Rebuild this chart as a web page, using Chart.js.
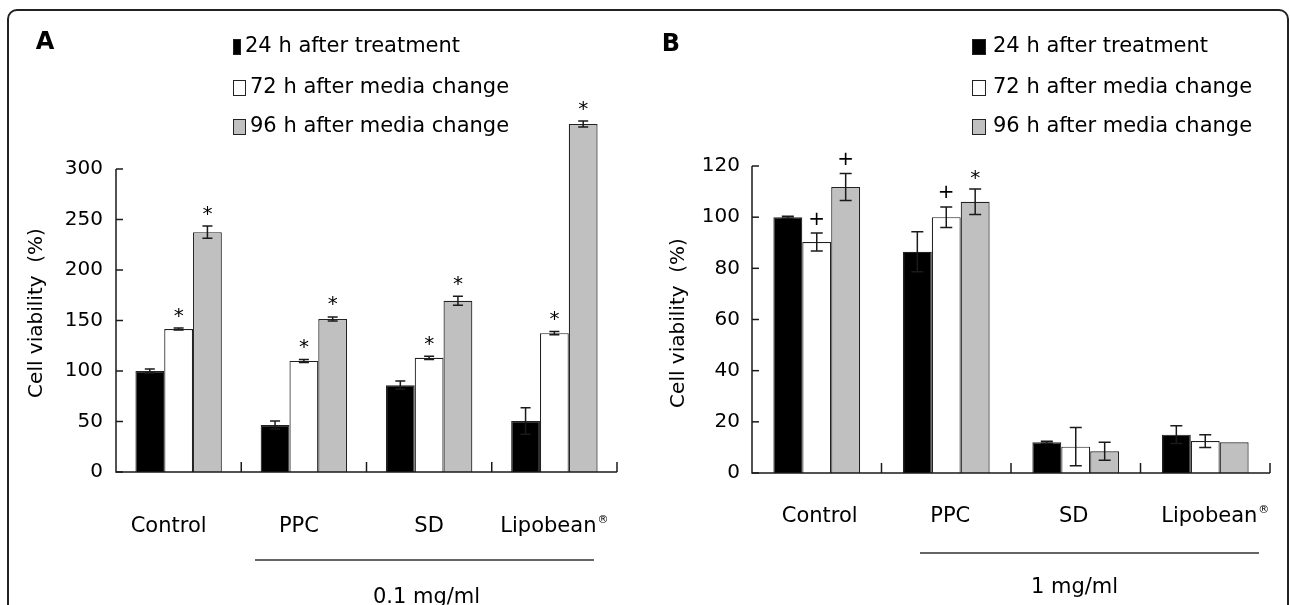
<!DOCTYPE html>
<html>
<head>
<meta charset="utf-8">
<script src="https://cdn.jsdelivr.net/npm/chart.js@4.4.1/dist/chart.umd.min.js"></script>
<style>
  html, body { margin: 0; padding: 0; background: #fff; overflow: hidden; }
  #wrap { position: relative; width: 1290px; height: 605px; overflow: hidden; }
  #frame { position: absolute; left: 7px; top: 9px; width: 1282px; height: 700px; box-sizing: border-box; border: 2px solid #222; border-radius: 10px; }
  canvas { position: absolute; top: 0; }
  #chartA { left: 0; }
  #chartB { left: 645px; }
</style>
</head>
<body>
<div id="wrap">
  <div id="frame"></div>
  <canvas id="chartA" width="645" height="605"></canvas>
  <canvas id="chartB" width="645" height="605"></canvas>
</div>
<script>
const categories = ['Control', 'PPC', 'SD', 'Lipobean®'];
const seriesNames = ['24 h after treatment', '72 h after media change', '96 h after media change'];

// Panel A, 0.1 mg/ml
const a24 = [100, 46.5, 86, 50.5];
const a24Err = [2, 4, 4, 13];
const a72 = [141.5, 110, 113, 137.5];
const a72Err = [1, 1.5, 1.5, 1.5];
const a96 = [237.5, 151.5, 169.5, 344.5];
const a96Err = [6, 2, 4.5, 3];
const a24Marks = ['', '', '', ''];
const a72Marks = ['*', '*', '*', '*'];
const a96Marks = ['*', '*', '*', '*'];
const aTicks = [0, 50, 100, 150, 200, 250, 300];

// Panel B, 1 mg/ml
const b24 = [100, 86.5, 12, 15];
const b24Err = [0.4, 7.8, 0.4, 3.5];
const b72 = [90.3, 100, 10.3, 12.5];
const b72Err = [3.5, 4, 7.5, 2.5];
const b96 = [111.8, 106, 8.5, 12];
const b96Err = [5.3, 5, 3.5, 0];
const b24Marks = ['', '', '', ''];
const b72Marks = ['+', '+', '', ''];
const b96Marks = ['+', '*', '', ''];
const bTicks = [0, 20, 40, 60, 80, 100, 120];

const FONT = 'DejaVu Sans';
const fillColors = ['#000000', '#ffffff', '#c0c0c0'];

function drawGlyph(ctx, text, x, yc) {
  const m = ctx.measureText(text);
  const asc = m.actualBoundingBoxAscent, desc = m.actualBoundingBoxDescent;
  ctx.fillText(text, x, yc + (asc - desc) / 2);
}

const extrasPlugin = {
  id: 'panelExtras',
  afterDraw(chart, args, opts) {
    const ctx = chart.ctx;
    const xs = chart.scales.x;
    const ys = chart.scales.y;
    const area = chart.chartArea;
    const y0 = ys.getPixelForValue(0);
    ctx.save();
    ctx.strokeStyle = '#1a1a1a';
    ctx.fillStyle = '#000';

    // error bars and significance marks
    chart.data.datasets.forEach((ds, di) => {
      const meta = chart.getDatasetMeta(di);
      meta.data.forEach((bar, i) => {
        const v = ds.data[i];
        const e = ds.errors[i];
        const top = ys.getPixelForValue(v + e);
        const bot = ys.getPixelForValue(v - e);
        if (e > 0) {
          ctx.lineWidth = 1.5;
          ctx.beginPath();
          ctx.moveTo(bar.x, top);
          ctx.lineTo(bar.x, bot);
          ctx.moveTo(bar.x - opts.cap / 2, top);
          ctx.lineTo(bar.x + opts.cap / 2, top);
          ctx.moveTo(bar.x - opts.cap / 2, bot);
          ctx.lineTo(bar.x + opts.cap / 2, bot);
          ctx.stroke();
        }
        const mark = ds.marks[i];
        if (mark) {
          ctx.font = '20px ' + FONT;
          ctx.textAlign = 'center';
          drawGlyph(ctx, mark, bar.x, top - opts.markGap);
        }
      });
    });

    // axis lines
    ctx.lineWidth = 1.5;
    ctx.beginPath();
    ctx.moveTo(area.left, ys.getPixelForValue(opts.yTop));
    ctx.lineTo(area.left, y0);
    ctx.lineTo(area.right, y0);
    ctx.stroke();

    // inward tick marks on y
    ys.ticks.forEach(t => {
      const py = ys.getPixelForValue(t.value);
      ctx.beginPath();
      ctx.moveTo(area.left, py);
      ctx.lineTo(area.left + 7, py);
      ctx.stroke();
    });

    // inward tick marks between categories
    const n = chart.data.labels.length;
    for (let i = 0; i < n; i++) {
      const px = i < n - 1 ? (xs.getPixelForValue(i) + xs.getPixelForValue(i + 1)) / 2 : area.right;
      ctx.beginPath();
      ctx.moveTo(px, y0);
      ctx.lineTo(px, y0 - 10);
      ctx.stroke();
    }

    // category labels (registered mark as superscript)
    ctx.textBaseline = 'middle';
    chart.data.labels.forEach((lab, i) => {
      const cx = xs.getPixelForValue(i) + opts.labelShift[i];
      const sup = lab.endsWith('®');
      const main = sup ? lab.slice(0, -1) : lab;
      ctx.font = '21px ' + FONT;
      const w1 = ctx.measureText(main).width;
      ctx.font = '11px ' + FONT;
      const w2 = sup ? ctx.measureText('®').width + 1 : 0;
      const start = cx - (w1 + w2) / 2;
      ctx.textAlign = 'left';
      ctx.font = '21px ' + FONT;
      ctx.fillText(main, start, opts.labelY);
      if (sup) {
        ctx.font = '11px ' + FONT;
        ctx.fillText('®', start + w1 + 1, opts.labelY - 7);
      }
    });

    // dose bracket
    ctx.lineWidth = 1.3;
    ctx.strokeStyle = '#333';
    ctx.beginPath();
    ctx.moveTo(opts.lineX[0], opts.lineY);
    ctx.lineTo(opts.lineX[1], opts.lineY);
    ctx.stroke();
    ctx.textAlign = 'center';
    ctx.textBaseline = 'alphabetic';
    ctx.font = '21px ' + FONT;
    ctx.fillText(opts.dose, (opts.lineX[0] + opts.lineX[1]) / 2 + opts.doseShift, opts.doseY);

    // legend
    ctx.textAlign = 'left';
    ctx.textBaseline = 'middle';
    chart.data.datasets.forEach((ds, di) => {
      const ry = opts.legendY[di];
      const bw = opts.boxW[di];
      ctx.fillStyle = ds.backgroundColor;
      ctx.fillRect(opts.boxX, ry - 8, bw, 16);
      ctx.strokeStyle = '#222';
      ctx.lineWidth = 1;
      ctx.strokeRect(opts.boxX + 0.5, ry - 7.5, bw - 1, 15);
      ctx.fillStyle = '#000';
      ctx.font = '21px ' + FONT;
      ctx.fillText(ds.label, opts.boxX + bw + opts.legendGap, ry);
    });

    // y axis title
    ctx.save();
    ctx.translate(opts.titleX, opts.titleY);
    ctx.rotate(-Math.PI / 2);
    ctx.textAlign = 'center';
    ctx.font = '20px ' + FONT;
    ctx.fillText('Cell viability  (%)', 0, 0);
    ctx.restore();

    // panel letter
    ctx.font = 'bold 24px ' + FONT;
    ctx.textAlign = 'center';
    ctx.fillText(opts.letter, opts.letterX, opts.letterY);
    ctx.restore();
  }
};

function makeDatasets(values, errors, marks, catPct) {
  return values.map((vals, i) => ({
    label: seriesNames[i],
    data: vals,
    errors: errors[i],
    marks: marks[i],
    backgroundColor: fillColors[i],
    borderColor: '#222',
    borderWidth: 1.2,
    categoryPercentage: catPct,
    barPercentage: 1.0
  }));
}

function makeChart(id, datasets, p) {
  return new Chart(document.getElementById(id), {
    type: 'bar',
    data: { labels: categories, datasets: datasets },
    plugins: [extrasPlugin],
    options: {
      responsive: false,
      animation: false,
      layout: { padding: { top: p.padTop, right: p.padRight, left: 0, bottom: 0 } },
      scales: {
        x: {
          ticks: { display: false },
          grid: { display: false, drawTicks: false },
          border: { display: false },
          afterFit: (s) => { s.height = p.xHeight; }
        },
        y: {
          min: 0,
          max: p.yMax,
          afterBuildTicks: (s) => { s.ticks = p.ticks.map(v => ({ value: v })); },
          ticks: { padding: p.tickPad, color: '#000', font: { family: FONT, size: 20 } },
          grid: { display: false, drawTicks: false },
          border: { display: false },
          afterFit: (s) => { s.width = p.yWidth; }
        }
      },
      plugins: {
        legend: { display: false },
        tooltip: { enabled: false },
        panelExtras: p.extras
      }
    }
  });
}

makeChart('chartA',
  makeDatasets([a24, a72, a96], [a24Err, a72Err, a96Err], [a24Marks, a72Marks, a96Marks], 0.69),
  {
    padTop: 118.5, padRight: 28, xHeight: 133, yWidth: 116, yMax: 350, ticks: aTicks, tickPad: 13,
    extras: {
      yTop: 300, cap: 10, markGap: 16, labelY: 527, labelShift: [-10, -5, 0, 0],
      lineX: [255, 594], lineY: 560, dose: '0.1 mg/ml', doseShift: 2, doseY: 603,
      legendY: [47, 88, 127], boxX: 233, boxW: [8, 13, 13], legendGap: 4,
      titleX: 37, titleY: 313, letter: 'A', letterX: 45, letterY: 43
    }
  });

makeChart('chartB',
  makeDatasets([b24, b72, b96], [b24Err, b72Err, b96Err], [b24Marks, b72Marks, b96Marks], 0.67),
  {
    padTop: 166, padRight: 20, xHeight: 132, yWidth: 107, yMax: 120, ticks: bTicks, tickPad: 12,
    extras: {
      yTop: 120, cap: 12, markGap: 15, labelY: 517, labelShift: [3, 4, -2, 10],
      lineX: [275, 614], lineY: 553, dose: '1 mg/ml', doseShift: -15, doseY: 593,
      legendY: [47, 88, 127], boxX: 327, boxW: [14, 14, 14], legendGap: 7,
      titleX: 34, titleY: 323, letter: 'B', letterX: 26, letterY: 45
    }
  });
</script>
</body>
</html>
